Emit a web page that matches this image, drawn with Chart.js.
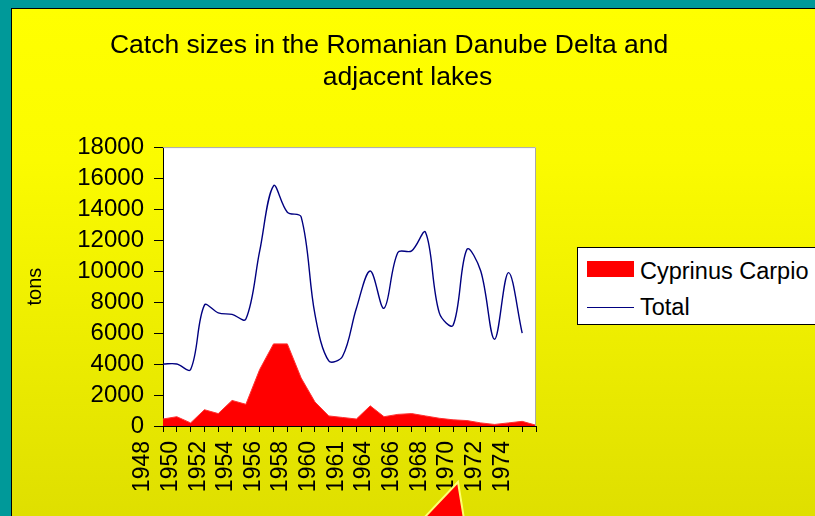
<!DOCTYPE html>
<html>
<head>
<meta charset="utf-8">
<script src="https://cdn.jsdelivr.net/npm/chart.js@4.4.1/dist/chart.umd.min.js"></script>
<style>
html,body{margin:0;padding:0}
body{width:815px;height:516px;overflow:hidden;background:#009999;position:relative;font-family:'Liberation Sans',Arial,sans-serif}
#frame{position:absolute;left:11px;top:8px;width:803px;height:507px;border-left:1px solid #000;border-top:1px solid #000;background:linear-gradient(to bottom,#ffff00 0%,#fbfb00 30%,#dfdf00 100%)}
#c{position:absolute;left:0;top:0}
#legend{position:absolute;left:577px;top:247px;width:260px;height:76px;border:1px solid #000;background:#fff}
#legend .sw{position:absolute;left:9px;width:47px}
#legend .tx{position:absolute;left:62px;font-size:23.5px;line-height:27px;color:#000;white-space:nowrap}
#deco{position:absolute;left:0;top:0;pointer-events:none}
</style>
</head>
<body>
<div id="frame"></div>
<canvas id="c" width="815" height="516"></canvas>
<div id="legend"></div>
<svg id="deco" width="815" height="516"><polygon points="423,519 458,482 464,519" fill="#ff0000" stroke="#ffff70" stroke-width="2"/></svg>
<script>
// ---- data ----
const categories = ['1948','','1950','','1952','','1954','','1956','','1958','','1960','','1961','','1964','','1966','','1968','','1970','','1972','','1974',''];
const carpioValues = [450,600,200,1050,800,1650,1400,3650,5300,5300,3100,1550,650,550,450,1300,600,750,800,650,500,400,350,200,100,200,300,50];
const totalValues = [4000,4000,3650,7800,7300,7200,6900,11300,15500,13800,13500,7200,4200,4500,7600,10000,7600,11200,11300,12500,7300,6500,11400,10000,5600,9900,6000,null];
const yTickValues = [0,2000,4000,6000,8000,10000,12000,14000,16000,18000];
const seriesNames = ['Cyprinus Carpio','Total'];
const seriesColors = ['#ff0000','#000080'];
const titleLines = ['Catch sizes in the Romanian Danube Delta and     ','adjacent lakes'];
const yAxisTitle = 'tons';

const FONT = "'Liberation Sans', Arial, sans-serif";

// HTML legend built from series names/colors
(function(){
  const lg = document.getElementById('legend');
  const sw1 = document.createElement('div'); sw1.className='sw';
  sw1.style.top='13px'; sw1.style.height='16px'; sw1.style.background=seriesColors[0];
  const t1 = document.createElement('div'); t1.className='tx'; t1.style.top='10px'; t1.textContent=seriesNames[0];
  const sw2 = document.createElement('div'); sw2.className='sw';
  sw2.style.top='59px'; sw2.style.height='1px'; sw2.style.background=seriesColors[1];
  const t2 = document.createElement('div'); t2.className='tx'; t2.style.top='46px'; t2.textContent=seriesNames[1];
  lg.append(sw1,t1,sw2,t2);
})();

const plotBg = {
  id:'plotBg',
  beforeDraw(chart){
    const {ctx, chartArea:a} = chart;
    ctx.save();
    ctx.fillStyle = '#ffffff';
    ctx.fillRect(a.left, a.top, a.right - a.left, a.bottom - a.top);
    ctx.restore();
  },
  afterDraw(chart){
    const {ctx, chartArea:a} = chart;
    ctx.save();
    ctx.strokeStyle = '#a8a8a8';
    ctx.lineWidth = 1;
    ctx.beginPath();
    ctx.moveTo(a.left, a.top + 0.5);
    ctx.lineTo(a.right - 0.5, a.top + 0.5);
    ctx.lineTo(a.right - 0.5, a.bottom);
    ctx.stroke();
    ctx.restore();
  }
};

new Chart(document.getElementById('c'), {
  type: 'line',
  data: {
    labels: categories,
    datasets: [
      {label: seriesNames[1], data: totalValues, borderColor: seriesColors[1], borderWidth: 1.4,
       pointRadius: 0, fill: false, tension: 0.35, order: 0},
      {label: seriesNames[0], data: carpioValues, borderColor: '#ff3030', backgroundColor: seriesColors[0],
       borderWidth: 1, pointRadius: 0, fill: 'origin', tension: 0, order: 1}
    ]
  },
  options: {
    responsive: false,
    animation: false,
    devicePixelRatio: 1,
    layout: {padding: 0},
    plugins: {
      legend: {display: false},
      tooltip: {enabled: false},
      title: {
        display: true, text: titleLines, color: '#000',
        font: {family: FONT, size: 26.5, weight: 'normal', lineHeight: 1.2},
        padding: {top: 30, bottom: 53.5}
      }
    },
    scales: {
      x: {
        type: 'category',
        grid: {display: true, drawOnChartArea: false, drawTicks: true, tickLength: 6, color: '#000'},
        border: {display: true, color: '#000', width: 1},
        ticks: {autoSkip: false, maxRotation: 90, minRotation: 90, padding: 9, labelOffset: -20,
                color: '#000', font: {family: FONT, size: 23}},
        afterFit(s){ s.height = 90; }
      },
      y: {
        type: 'linear', position: 'left', min: 0, max: 18000,
        grid: {display: true, drawOnChartArea: false, drawTicks: true, tickLength: 9, color: '#000'},
        border: {display: true, color: '#000', width: 1},
        ticks: {autoSkip: false, padding: 10, color: '#000', font: {family: FONT, size: 24}, callback: v => String(v)},
        afterBuildTicks(s){ s.ticks = yTickValues.map(v => ({value: v})); },
        title: {display: true, text: yAxisTitle, color: '#000', font: {family: FONT, size: 20},
                padding: {top: 23, bottom: 0}},
        afterFit(s){ s.width = 163; }
      },
      yR: {
        type: 'linear', position: 'right', display: true,
        grid: {display: false}, border: {display: false}, ticks: {display: false},
        afterFit(s){ s.width = 279; }
      }
    }
  },
  plugins: [plotBg]
});
</script>
</body>
</html>
